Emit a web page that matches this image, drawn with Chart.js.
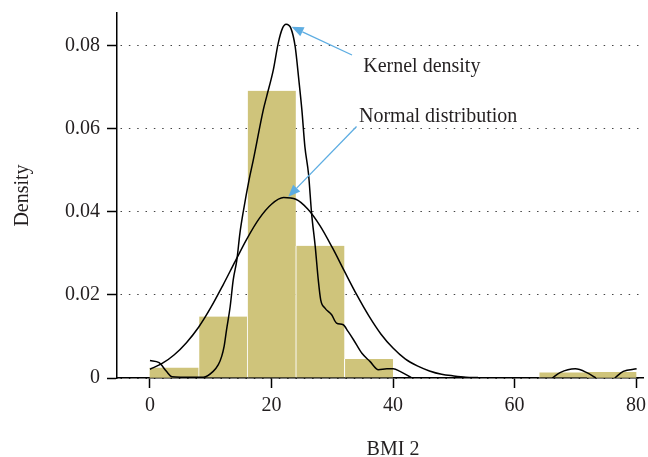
<!DOCTYPE html>
<html>
<head>
<meta charset="utf-8">
<script src="https://cdn.jsdelivr.net/npm/chart.js@4/dist/chart.umd.min.js"></script>
<style>
  html, body { margin: 0; padding: 0; background: #fff; }
  #wrap { width: 648px; height: 457px; }
</style>
</head>
<body>
<div id="wrap"><canvas id="chart" width="648" height="457"></canvas></div>
<script>
/* ── data ── */
const xTicks      = [0, 20, 40, 60, 80];
const yTicks      = [0, 0.02, 0.04, 0.06, 0.08];
const yTickLabels = ['0', '0.02', '0.04', '0.06', '0.08'];

/* histogram, bin width 8 */
const binCenters = [4, 12, 20, 28, 36, 68, 76];
const binDensity = [0.0024, 0.0148, 0.0691, 0.0318, 0.0046, 0.00135, 0.00135];

/* kernel density (null = gap) */
const kernelX = [0, 1.5, 2.7, 3.6, 5, 8.8, 10.4, 11.25, 11.8, 12.2, 12.6, 13.2, 13.7, 14.3, 14.8, 15.4, 16.3,
                 17.0, 18.65, 19.2, 20.3, 21.1, 21.8, 22.4, 23.2, 23.9, 24.5, 25.0, 25.5, 26.1, 26.6, 27.2, 27.7,
                 28.1, 28.8, 29.9, 30.7, 31.8, 32.6, 33.5, 34.85, 36.2, 37.6, 39.0, 40.05, 41.15, 43.1,
                 50, 66.2, 67.5, 70, 71.9, 73.4, 75, 76.5, 77.9, 80.1];
const kernelY = [0.0042, 0.0037, 0.0016, 0.0003, 0.0002, 0.0002, 0.0016, 0.0032, 0.0052, 0.0076, 0.0116, 0.0172, 0.0236, 0.0284, 0.0348, 0.0404, 0.0476,
                 0.0524, 0.0645, 0.0677, 0.0741, 0.0805, 0.0841, 0.0851, 0.0841, 0.0797, 0.0717, 0.0645, 0.0556, 0.0490, 0.0396, 0.0316, 0.0236,
                 0.0188, 0.0168, 0.0152, 0.0132, 0.0128, 0.0112, 0.0092, 0.0060, 0.0040, 0.0020, 0.0022, 0.0022, 0.0016, 0,
                 null, 0, 0.0013, 0.0022, 0.0013, 0, null, 0, 0.0016, 0.0022];

/* normal distribution */
const normalX = [0, 2, 4, 6, 8, 10, 12, 14, 16, 18, 20, 22, 24, 26, 28, 30, 32, 34, 36, 38, 40, 42, 44, 46, 48, 50, 52, 54];
const normalY = [0.0021, 0.0035, 0.0056, 0.0085, 0.0122, 0.0169, 0.0223, 0.0280, 0.0336, 0.0384, 0.0418, 0.0434, 0.0430, 0.0406,
                 0.0366, 0.0314, 0.0257, 0.0201, 0.0150, 0.0106, 0.0072, 0.0046, 0.0029, 0.0017, 0.0009, 0.0005, 0.0002, 0.0001];

/* ── style ── */
const FONT   = '"Liberation Serif", "DejaVu Serif", serif';
const INK    = '#231f20';
const BAR    = '#cfc47b';
const ARROW  = '#5dade2';

const pairs = (xs, ys) => xs.map((x, i) => ({ x, y: ys[i] }));

/* annotations in data coords: text start, arrow tail, arrow tip */
const notes = [
  { text: 'Kernel density',      at: [35.1, 0.0736], from: [33.25, 0.0777], to: [23.3, 0.0845] },
  { text: 'Normal distribution', at: [34.4, 0.0617], from: [34.0, 0.0605],  to: [22.77, 0.0436] },
];

const extras = {
  id: 'extras',
  afterDatasetsDraw(chart) {
    const { ctx, scales: { x, y }, chartArea } = chart;
    ctx.save();
    ctx.fillStyle = INK;
    ctx.font = '20px ' + FONT;

    /* axis titles */
    ctx.textAlign = 'center';
    ctx.textBaseline = 'alphabetic';
    ctx.fillText('BMI 2', x.getPixelForValue(40), 455);
    ctx.save();
    ctx.translate(28, (chartArea.top + chartArea.bottom) / 2);
    ctx.rotate(-Math.PI / 2);
    ctx.fillText('Density', 0, 0);
    ctx.restore();

    /* arrows + labels */
    notes.forEach(n => {
      const tx = x.getPixelForValue(n.at[0]),   ty = y.getPixelForValue(n.at[1]);
      const ax = x.getPixelForValue(n.from[0]), ay = y.getPixelForValue(n.from[1]);
      const bx = x.getPixelForValue(n.to[0]),   by = y.getPixelForValue(n.to[1]);
      ctx.textAlign = 'left';
      ctx.fillStyle = INK;
      ctx.fillText(n.text, tx, ty);

      const ang = Math.atan2(by - ay, bx - ax);
      const len = 12, half = 5;
      const hx = bx - len * Math.cos(ang), hy = by - len * Math.sin(ang);
      ctx.strokeStyle = ARROW;
      ctx.lineWidth = 1.3;
      ctx.beginPath();
      ctx.moveTo(ax, ay);
      ctx.lineTo(hx, hy);
      ctx.stroke();
      ctx.fillStyle = ARROW;
      ctx.beginPath();
      ctx.moveTo(bx, by);
      ctx.lineTo(hx + half * Math.sin(ang), hy - half * Math.cos(ang));
      ctx.lineTo(hx - half * Math.sin(ang), hy + half * Math.cos(ang));
      ctx.closePath();
      ctx.fill();
    });
    ctx.restore();
  },
};

new Chart(document.getElementById('chart'), {
  type: 'bar',
  data: {
    datasets: [
      {
        type: 'line',
        label: 'Kernel density',
        data: pairs(kernelX, kernelY),
        borderColor: '#000',
        borderWidth: 1.5,
        pointRadius: 0,
        cubicInterpolationMode: 'monotone',
        spanGaps: false,
        order: 0,
      },
      {
        type: 'line',
        label: 'Normal distribution',
        data: pairs(normalX, normalY),
        borderColor: '#000',
        borderWidth: 1.5,
        pointRadius: 0,
        cubicInterpolationMode: 'monotone',
        order: 1,
      },
      {
        type: 'bar',
        label: 'Histogram',
        data: pairs(binCenters, binDensity),
        backgroundColor: BAR,
        borderColor: '#fff',
        borderWidth: ctx => (ctx.dataIndex === 0 || ctx.dataIndex === 6) ? 0 : { left: 1, right: 0, top: 0, bottom: 0 },
        borderSkipped: false,
        barPercentage: 1,
        categoryPercentage: 1,
        order: 2,
      },
    ],
  },
  options: {
    responsive: false,
    animation: false,
    layout: { padding: { top: 13, right: 5, left: 0, bottom: 0 } },
    plugins: { legend: { display: false }, tooltip: { enabled: false } },
    scales: {
      x: {
        type: 'linear',
        offset: false,
        min: -5.43,
        max: 81.15,
        afterBuildTicks: s => { s.ticks = xTicks.map(v => ({ value: v })); },
        afterFit: s => { s.height = 79; s.paddingLeft = 0; s.paddingRight = 0; },
        ticks: { color: INK, font: { family: FONT, size: 20 }, padding: 6, maxRotation: 0 },
        grid: { offset: false, drawOnChartArea: false, tickLength: 10, tickColor: '#000', tickWidth: 1.5 },
        border: { color: '#000', width: 1.5 },
      },
      y: {
        min: 0,
        max: 0.0878,
        afterBuildTicks: s => { s.ticks = yTicks.map(v => ({ value: v })); },
        afterFit: s => { s.width = 117; s.paddingTop = 0; s.paddingBottom = 0; },
        ticks: { color: INK, font: { family: FONT, size: 20 }, padding: 7, callback: (v, i) => yTickLabels[i] },
        grid: { color: '#444', lineWidth: 1, tickLength: 10, tickColor: '#000', tickWidth: 1.5, tickBorderDash: [] },
        border: { color: '#000', width: 1.5, dash: [1.5, 6.83], dashOffset: 5.3 },
      },
    },
  },
  plugins: [extras],
});
</script>
</body>
</html>
